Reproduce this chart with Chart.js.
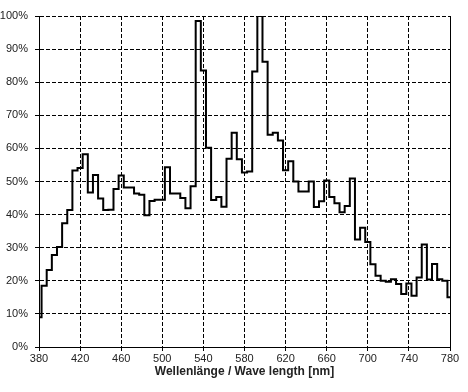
<!DOCTYPE html>
<html>
<head>
<meta charset="utf-8">
<script src="https://cdn.jsdelivr.net/npm/chart.js@4"></script>
<style>
  html, body { margin: 0; padding: 0; background: #fff; }
  #box { width: 468px; height: 392px; }
</style>
</head>
<body>
<div id="box"><canvas id="spectrum"></canvas></div>
<script>
// wavelength bins (nm), 5 nm apart
const wavelengths = [380,385,390,395,400,405,410,415,420,425,430,435,440,445,450,455,460,465,470,475,
  480,485,490,495,500,505,510,515,520,525,530,535,540,545,550,555,560,565,570,575,
  580,585,590,595,600,605,610,615,620,625,630,635,640,645,650,655,660,665,670,675,
  680,685,690,695,700,705,710,715,720,725,730,735,740,745,750,755,760,765,770,775,780];

// relative intensity in %
const intensity = [9,18.5,23.3,27.8,30.2,37.4,41.4,53.3,54.1,58.2,46.7,52,44.9,41.4,41.5,47.7,51.8,48.2,48.2,46.4,
  46,39.8,44.1,44.5,44.5,54.3,46.4,46.4,45,41.9,48.6,98.5,83.5,60.2,44.4,45.3,42.4,56.9,64.7,56.7,
  52.7,53,83.2,100,86.2,64.1,64.7,62.4,53.4,56.1,50,47,47,50,42.3,44,50.3,45.3,43.4,40.7,
  42.6,50.9,32.5,36,31.7,25,21.5,20,19.7,20.5,19,16,19.2,15.5,21,31,20.4,25.1,20.5,20,15];

const xTicks = [380,420,460,500,540,580,620,660,700,740,780];
const xTitle = "Wellenlänge / Wave length [nm]";

// solid frame line on the right side of the plot
const rightBorder = {
  id: 'rightBorder',
  afterDraw(chart) {
    const a = chart.chartArea;
    const ctx = chart.ctx;
    ctx.save();
    ctx.strokeStyle = '#000';
    ctx.lineWidth = 1;
    ctx.beginPath();
    ctx.moveTo(Math.round(a.right) + 0.5, a.top);
    ctx.lineTo(Math.round(a.right) + 0.5, a.bottom);
    ctx.stroke();
    ctx.restore();
  }
};

new Chart("spectrum", {
  type: "line",
  data: {
    datasets: [{
      data: wavelengths.map((w, i) => ({ x: w, y: intensity[i] })),
      stepped: 'middle',
      borderColor: '#000',
      borderWidth: 2,
      pointRadius: 0,
      fill: false
    }]
  },
  options: {
    responsive: true,
    maintainAspectRatio: false,
    animation: false,
    layout: { padding: { top: 16, right: 18, left: 0, bottom: 0 } },
    plugins: { legend: { display: false }, tooltip: { enabled: false } },
    scales: {
      x: {
        type: 'linear',
        min: 380,
        max: 780,
        afterBuildTicks: (scale) => { scale.ticks = xTicks.map(v => ({ value: v })); },
        afterFit: (scale) => { scale.height = 45; },
        ticks: { color: '#222', font: { family: 'Liberation Sans', size: 11 }, padding: 1, maxRotation: 0 },
        grid: { color: '#000', lineWidth: 1, tickLength: 4, tickColor: '#000' },
        border: { color: '#000', width: 1, dash: [4, 2] },
        title: {
          display: true,
          text: xTitle,
          color: '#222',
          font: { family: 'Liberation Sans', size: 12, weight: 'bold' },
          padding: { top: 0, bottom: 13 }
        }
      },
      y: {
        min: 0,
        max: 100,
        afterFit: (scale) => { scale.width = 39; },
        ticks: {
          stepSize: 10,
          color: '#222',
          font: { family: 'Liberation Sans', size: 11 },
          padding: 7,
          callback: (v) => v + '%'
        },
        grid: { color: '#000', lineWidth: 1, tickLength: 4, tickColor: '#000' },
        border: { color: '#000', width: 1, dash: [4, 2] }
      }
    }
  },
  plugins: [rightBorder]
});
</script>
</body>
</html>
